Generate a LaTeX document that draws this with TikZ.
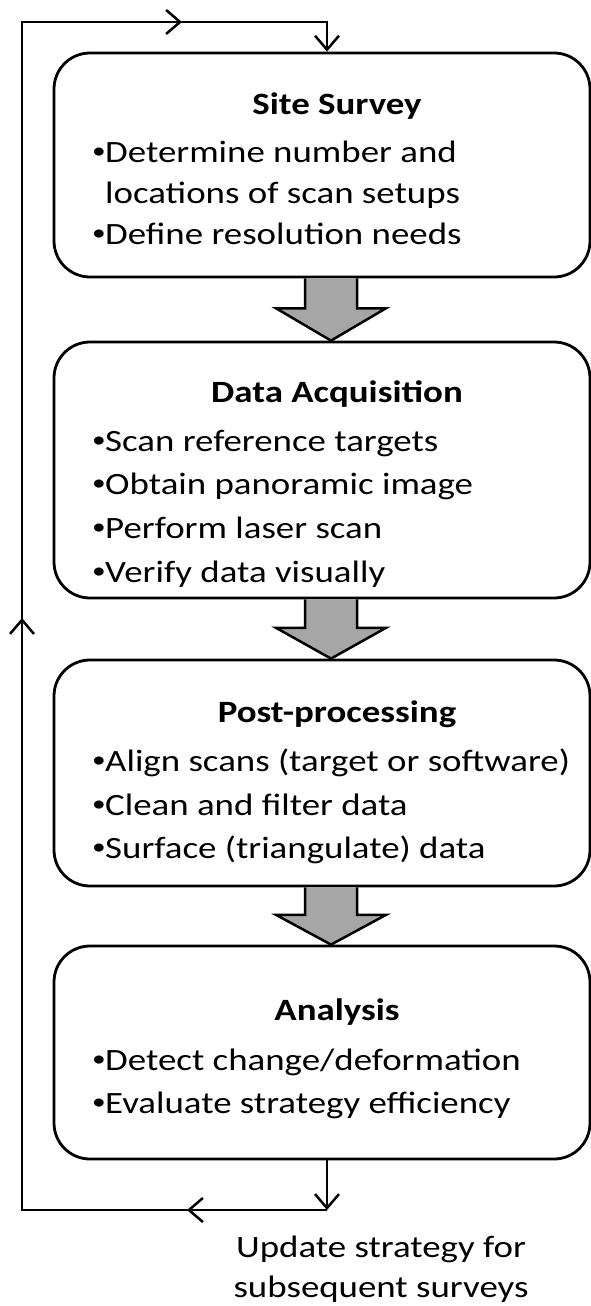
\documentclass[tikz,border=0pt]{standalone}
\usepackage{fontspec}
\setmainfont{Carlito}[FakeStretch=1.19]
\usetikzlibrary{arrows.meta,decorations.markings,calc}
\newcommand\bu{\makebox[15pt][l]{\hspace{2pt}\raisebox{3.8pt}{\fontsize{23}{23}\selectfont •}}}
\tikzset{
  chev/.tip={Straight Barb[length=14pt,width=24pt]},
  box/.style={draw, line width=2.8pt, rounded corners=36pt, fill=white,
    minimum width=536pt, inner sep=0pt},
  ttl/.style={font=\bfseries\fontsize{31}{36}\selectfont, anchor=base, inner sep=0pt},
  bul/.style={font=\fontsize{31}{36}\selectfont, anchor=base west, inner sep=0pt},
  lbl/.style={font=\fontsize{31}{36}\selectfont, anchor=base, inner sep=0pt},
  flow/.style={line width=2.5pt, line join=miter},
  blockarrow/.style={draw, line width=2.5pt, fill=black!35, line join=miter},
}
\newcommand\blockarr[2]{%
  \draw[blockarrow] let \p1=(#1.south), \p2=(#2.north),
    \n1={\y1+0.48*(\y2-\y1)} in
    (305pt,\y1) -- (305pt,\n1) -- (276pt,\n1) -- (331pt,\y2)
    -- (386pt,\n1) -- (357pt,\n1) -- (357pt,\y1);}
\begin{document}
\begin{tikzpicture}[x=1pt,y=-1pt]
\useasboundingbox (0,0) rectangle (591,1306);

% boxes
\node[box, minimum height=224pt] (b1) at (322,165) {};
\node[box, minimum height=256pt] (b2) at (322,470) {};
\node[box, minimum height=226pt] (b3) at (322,773) {};
\node[box, minimum height=213pt] (b4) at (322,1052.5) {};

% box 1
\node[ttl] (t1) at (337,114) {Site Survey};
\node[bul] (l11) at (90,162) {\bu Determine number and};
\node[bul] (l12) at (90,203) {\hphantom{\bu}locations of scan setups};
\node[bul] (l13) at (90,244) {\bu Define resolution needs};

% box 2
\node[ttl] (t2) at (337,402) {Data Acquisition};
\node[bul] (l21) at (90,451) {\bu Scan reference targets};
\node[bul] (l22) at (90,494) {\bu Obtain panoramic image};
\node[bul] (l23) at (90,538) {\bu Perform laser scan};
\node[bul] (l24) at (90,582) {\bu Verify data visually};

% box 3
\node[ttl] (t3) at (337,722) {Post-processing};
\node[bul] (l31) at (90,771) {\bu Align scans (target or software)};
\node[bul] (l32) at (90,815) {\bu Clean and filter data};
\node[bul] (l33) at (90,858) {\bu Surface (triangulate) data};

% box 4
\node[ttl] (t4) at (337,1020) {Analysis};
\node[bul] (l41) at (90,1070) {\bu Detect change/deformation};
\node[bul] (l42) at (90,1113) {\bu Evaluate strategy efficiency};

% block arrows
\blockarr{b1}{b2}
\blockarr{b2}{b3}
\blockarr{b3}{b4}

% feedback loop
\coordinate (br) at (327,1210);
\coordinate (bl) at (22,1210);
\coordinate (tl) at (22,22);
\coordinate (tr) at (327,22);
\draw[flow, -{chev}] (br |- b4.south) -- (br);
\draw[flow, -{chev},
  decoration={markings,
    mark=at position 140pt with {\arrow{chev}},
    mark=at position 897pt with {\arrow{chev}},
    mark=at position 1653pt with {\arrow{chev}}},
  postaction={decorate}]
  (br) -- (bl) -- (tl) -- (tr) -- (tr |- b1.north);

% label
\node[lbl] (u1) at (381,1257) {Update strategy for};
\node[lbl] (u2) at (381,1297) {subsequent surveys};
\end{tikzpicture}
\end{document}
